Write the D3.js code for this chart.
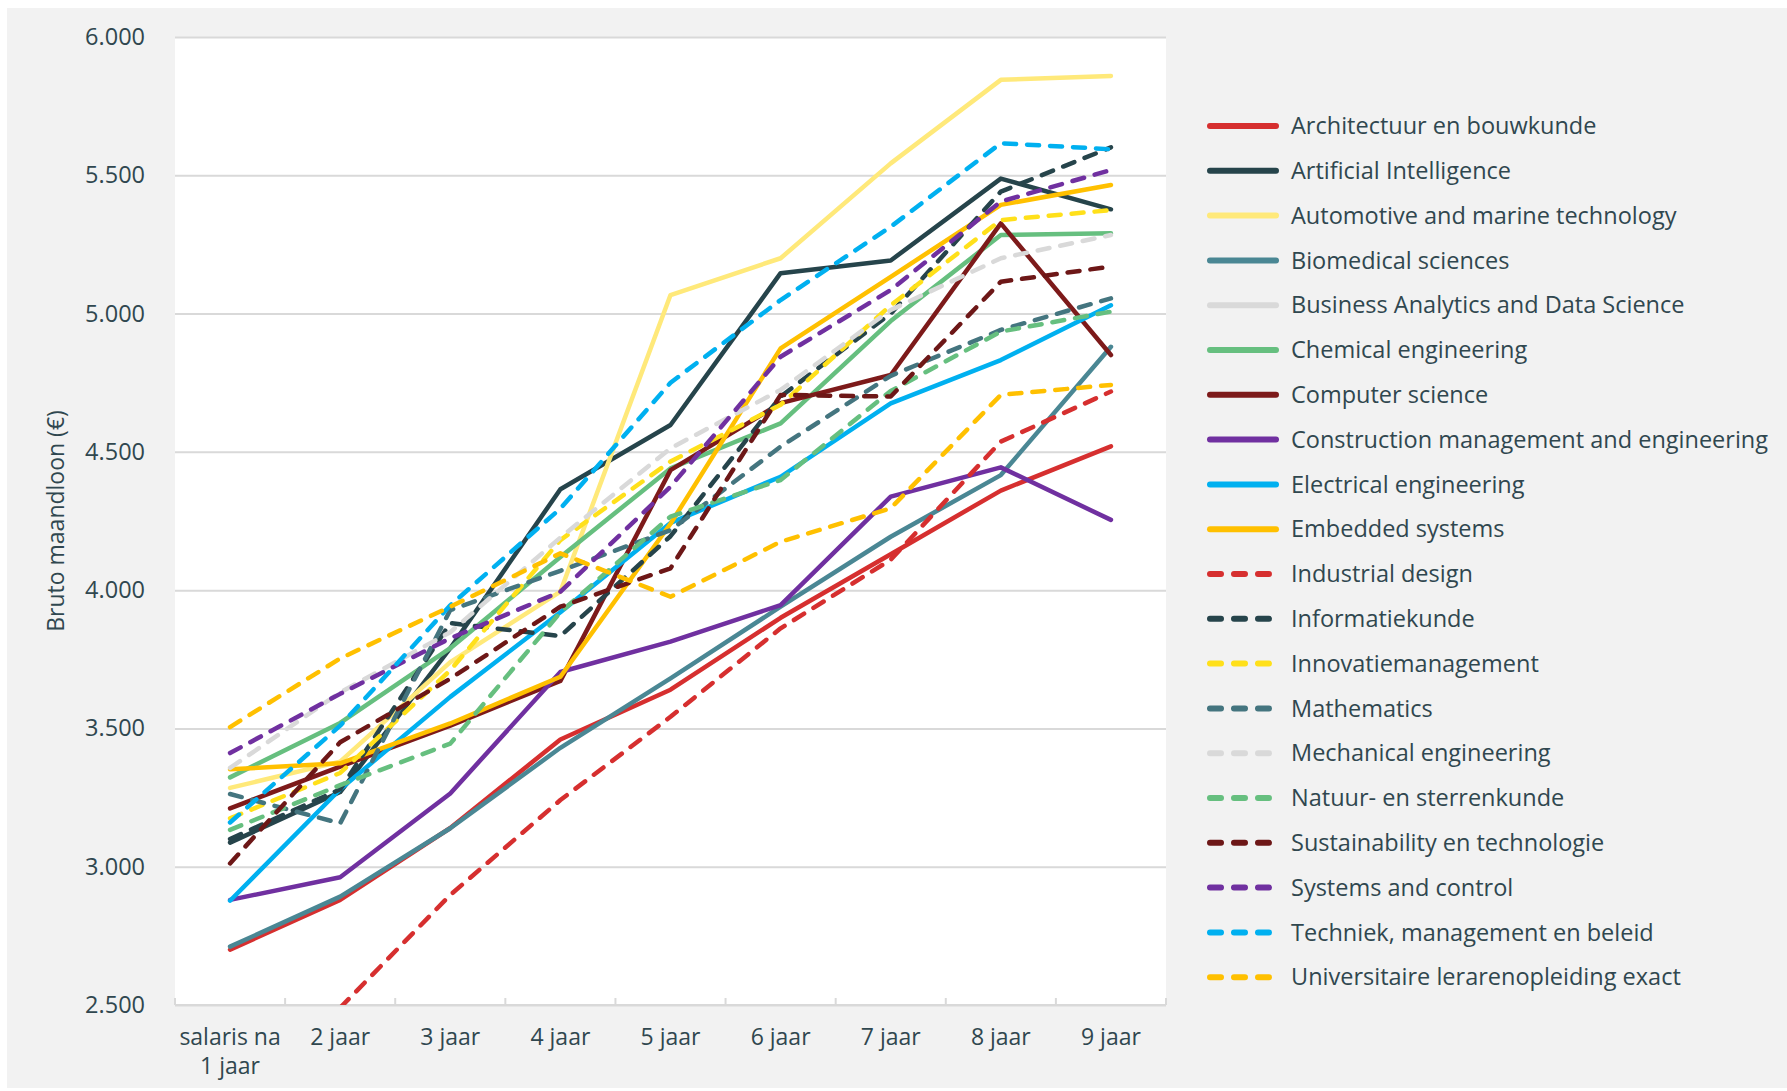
<!DOCTYPE html>
<html>
<head>
<meta charset="utf-8">
<script src="https://cdn.jsdelivr.net/npm/d3@7"></script>
<style>
  html, body { margin: 0; padding: 0; background: #ffffff; }
  svg { display: block; }
  text { font-family: "Open Sans", Lato, sans-serif; fill: #30474f; }
</style>
</head>
<body>
<svg id="chart" width="1787" height="1091"></svg>
<script>
// Categories on the x axis
const categories = ["salaris na 1 jaar", "2 jaar", "3 jaar", "4 jaar", "5 jaar", "6 jaar", "7 jaar", "8 jaar", "9 jaar"];

// Y axis tick values (bruto maandloon in euro)
const yTicks = [2500, 3000, 3500, 4000, 4500, 5000, 5500, 6000];

// Series names, in legend order
const seriesNames = [
  "Architectuur en bouwkunde",
  "Artificial Intelligence",
  "Automotive and marine technology",
  "Biomedical sciences",
  "Business Analytics and Data Science",
  "Chemical engineering",
  "Computer science",
  "Construction management and engineering",
  "Electrical engineering",
  "Embedded systems",
  "Industrial design",
  "Informatiekunde",
  "Innovatiemanagement",
  "Mathematics",
  "Mechanical engineering",
  "Natuur- en sterrenkunde",
  "Sustainability en technologie",
  "Systems and control",
  "Techniek, management en beleid",
  "Universitaire lerarenopleiding exact"
];

// Monthly gross salary per year after graduation
const architectuur   = [2700, 2880, 3140, 3460, 3640, 3900, 4130, 4360, 4520];
const artificialInt  = [3087, 3270, 3790, 4365, 4597, 5146, 5192, 5488, 5377];
const automotive     = [3285, 3380, 3740, 3995, 5067, 5200, 5543, 5845, 5859];
const biomedical     = [2711, 2892, 3139, 3430, 3681, 3940, 4193, 4416, 4880];
const businessAnalyt = [null, null, null, null, null, null, null, null, null];
const chemical       = [3323, 3520, 3790, 4120, 4440, 4603, 4973, 5284, 5290];
const computerSci    = [3211, 3362, 3510, 3672, 4434, 4676, 4778, 5326, 4850];
const construction   = [2880, 2962, 3265, 3704, 3814, 3946, 4338, 4444, 4254];
const electrical     = [2877, 3280, 3614, 3920, 4243, 4410, 4675, 4832, 5030];
const embedded       = [3352, 3374, 3518, 3687, 4240, 4874, 5133, 5393, 5465];
const industrial     = [null, 2490, 2898, 3241, 3542, 3862, 4110, 4537, 4718];
const informatiekunde= [3100, 3280, 3881, 3834, 4195, 4700, 5000, 5441, 5601];
const innovatie      = [3175, 3339, 3710, 4181, 4465, 4670, 5030, 5338, 5374];
const mathematics    = [3263, 3157, 3928, 4070, 4217, 4519, 4775, 4941, 5055];
const mechanical     = [3357, 3630, 3848, 4190, 4513, 4724, 5013, 5200, 5284];
const natuur         = [3133, 3295, 3445, 3920, 4266, 4398, 4720, 4935, 5007];
const sustainability = [3012, 3450, 3680, 3940, 4079, 4706, 4700, 5115, 5170];
const systemsControl = [3411, 3625, 3826, 3994, 4374, 4844, 5085, 5405, 5519];
const techniek       = [3160, 3510, 3945, 4295, 4750, 5049, 5314, 5616, 5594];
const universitaire  = [3505, 3753, 3940, 4133, 3976, 4175, 4296, 4706, 4742];

const seriesValues = [
  architectuur, artificialInt, automotive, biomedical, businessAnalyt,
  chemical, computerSci, construction, electrical, embedded,
  industrial, informatiekunde, innovatie, mathematics, mechanical,
  natuur, sustainability, systemsControl, techniek, universitaire
];

const seriesColors = [
  "#d62f2f", "#26444b", "#ffe97a", "#4a8794", "#d9d9d9",
  "#66bf7f", "#7d1a1a", "#7030a0", "#00b0f0", "#ffc000",
  "#d62f2f", "#26444b", "#ffe01a", "#44757f", "#d9d9d9",
  "#66bf7f", "#6d1717", "#7030a0", "#00b0f0", "#ffc000"
];
const seriesDashed = [
  false, false, false, false, false, false, false, false, false, false,
  true, true, true, true, true, true, true, true, true, true
];

const series = seriesNames.map((name, i) => ({
  name, values: seriesValues[i], color: seriesColors[i], dashed: seriesDashed[i]
}));

const svg = d3.select("#chart");
const W = 1787, H = 1091;

// Grey panel behind the chart
svg.append("rect").attr("x", 7).attr("y", 8).attr("width", W - 7).attr("height", H - 11)
  .attr("fill", "#f2f2f2");

const plot = { left: 175, right: 1166, top: 37, bottom: 1005 };

const x = d3.scaleBand().domain(categories).range([plot.left, plot.right]).padding(0);
const y = d3.scaleLinear().domain([2500, 6000]).range([plot.bottom, plot.top]);

const nl = d3.formatLocale({ decimal: ",", thousands: ".", grouping: [3], currency: ["€ ", ""] });
const fmt = nl.format(",.0f");

// White plot area
svg.append("rect").attr("x", plot.left).attr("y", plot.top)
  .attr("width", plot.right - plot.left).attr("height", plot.bottom - plot.top)
  .attr("fill", "#ffffff");

// Horizontal gridlines and y labels
const yAxis = svg.append("g").attr("transform", `translate(${plot.left},0)`)
  .call(d3.axisLeft(y).tickValues(yTicks).tickFormat(fmt)
    .tickSize(-(plot.right - plot.left)).tickPadding(30));
yAxis.select(".domain").remove();
yAxis.selectAll(".tick line").attr("stroke", "#d9d9d9").attr("stroke-width", 2);
yAxis.selectAll(".tick text").attr("font-size", 23.5).attr("font-family", "Open Sans").attr("fill", "#30474f");

// X axis baseline with upward ticks at category boundaries
const xAxisG = svg.append("g");
xAxisG.append("line")
  .attr("x1", plot.left).attr("x2", plot.right)
  .attr("y1", plot.bottom).attr("y2", plot.bottom)
  .attr("stroke", "#d9d9d9").attr("stroke-width", 2);
const boundaries = categories.map(c => x(c)).concat([plot.right]);
xAxisG.selectAll("line.tk").data(boundaries).join("line").attr("class", "tk")
  .attr("x1", d => d).attr("x2", d => d)
  .attr("y1", plot.bottom).attr("y2", plot.bottom - 7)
  .attr("stroke", "#d9d9d9").attr("stroke-width", 2);

// Category labels, wrapped when wider than a band
const labels = xAxisG.selectAll("text.cat").data(categories).join("text").attr("class", "cat")
  .attr("x", d => x(d) + x.bandwidth() / 2)
  .attr("y", 1045)
  .attr("text-anchor", "middle")
  .attr("font-size", 23);
labels.each(function (d) {
  const t = d3.select(this);
  const words = d.split(" ");
  let line = [], lines = [];
  const probe = t.append("tspan");
  words.forEach(w => {
    line.push(w);
    probe.text(line.join(" "));
    if (probe.node().getComputedTextLength() > x.bandwidth() - 6 && line.length > 1) {
      line.pop();
      lines.push(line.join(" "));
      line = [w];
    }
  });
  lines.push(line.join(" "));
  probe.remove();
  lines.forEach((ln, i) => {
    t.append("tspan").attr("x", x(d) + x.bandwidth() / 2).attr("dy", i === 0 ? 0 : 29).text(ln);
  });
});

// Y axis title
svg.append("text")
  .attr("transform", `translate(64,${(plot.top + plot.bottom) / 2}) rotate(-90)`)
  .attr("text-anchor", "middle")
  .attr("font-size", 23)
  .text("Bruto maandloon (€)");

// Data lines, clipped to the plot area
svg.append("clipPath").attr("id", "plotClip").append("rect")
  .attr("x", plot.left).attr("y", plot.top)
  .attr("width", plot.right - plot.left).attr("height", plot.bottom - plot.top);

const line = d3.line()
  .defined(d => d != null)
  .x((d, i) => x(categories[i]) + x.bandwidth() / 2)
  .y(d => y(d));

svg.append("g").attr("clip-path", "url(#plotClip)")
  .selectAll("path").data(series).join("path")
  .attr("d", s => line(s.values))
  .attr("fill", "none")
  .attr("stroke", s => s.color)
  .attr("stroke-width", 4.5)
  .attr("stroke-linejoin", "round")
  .attr("stroke-linecap", "round")
  .attr("stroke-dasharray", s => s.dashed ? "12 11" : null);

// Legend
const legend = svg.append("g");
const rowH = 44.8, legTop = 126;
const items = legend.selectAll("g").data(series).join("g")
  .attr("transform", (s, i) => `translate(0,${legTop + i * rowH})`);
items.append("line")
  .attr("x1", 1210).attr("x2", s => s.dashed ? 1270 : 1276)
  .attr("y1", 0).attr("y2", 0)
  .attr("stroke", s => s.color).attr("stroke-width", 6).attr("stroke-linecap", "round")
  .attr("stroke-dasharray", s => s.dashed ? "11 13" : null);
items.append("text")
  .attr("x", 1291).attr("y", 0).attr("dy", "0.35em")
  .attr("font-size", 23.5)
  .text(s => s.name);
</script>
</body>
</html>
